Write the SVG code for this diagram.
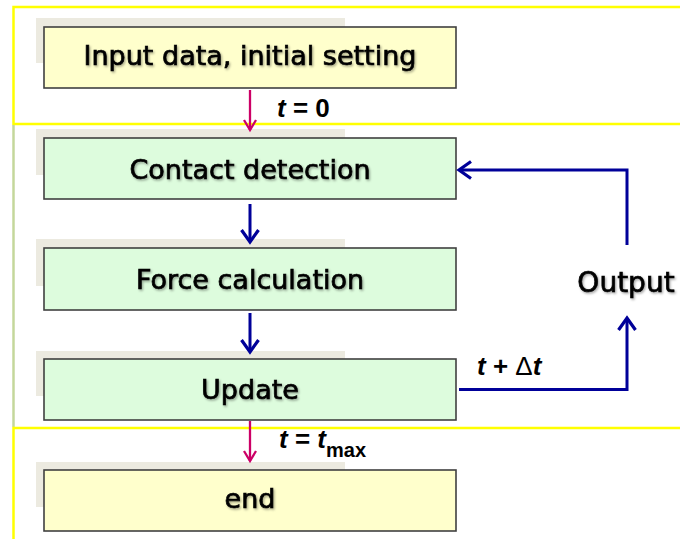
<svg xmlns="http://www.w3.org/2000/svg" width="680" height="539" viewBox="0 0 680 539">
<defs>
<style>
.shadow{fill:#ECEAE0;}
.boxY{fill:#FFFFCC;stroke:#404040;stroke-width:1.6;}
.boxG{fill:#DDFCDD;stroke:#404040;stroke-width:1.6;}
.t{font-family:"DejaVu Sans",sans-serif;font-size:27px;fill:#000;stroke:#000;stroke-width:0.7;text-anchor:middle;filter:url(#ts);}
.lab{font-family:"Liberation Sans",Arial,sans-serif;font-size:26px;font-weight:bold;fill:#000;}
.blue{fill:none;stroke:#000099;stroke-width:3;}
.pink{fill:none;stroke:#CC0066;stroke-width:2.3;}
.frame{fill:none;stroke:#FFFF00;stroke-width:2.5;}
</style>
<filter id="ts" x="-5%" y="-20%" width="110%" height="150%">
<feDropShadow dx="1.2" dy="1.5" stdDeviation="0.8" flood-color="#000" flood-opacity="0.35"/>
</filter>
<marker id="ab" markerUnits="userSpaceOnUse" viewBox="-16 -12 20 24" markerWidth="20" markerHeight="24" refX="0" refY="0" orient="auto">
<path d="M-12,-8.5 L0,0 L-12,8.5" fill="none" stroke="#000099" stroke-width="3.2"/>
</marker>
<marker id="ap" markerUnits="userSpaceOnUse" viewBox="-14 -10 18 20" markerWidth="18" markerHeight="20" refX="0" refY="0" orient="auto">
<path d="M-10,-6 L0,0 L-10,6" fill="none" stroke="#CC0066" stroke-width="2.3"/>
</marker>
</defs>
<rect width="680" height="539" fill="#FFFFFF"/>
<g id="frames">
<path class="frame" d="M682,7 L13.5,7 L13.5,124 L682,124"/>
<line x1="13.5" y1="125" x2="13.5" y2="427" stroke="#C4D79B" stroke-width="2.5"/>
<path class="frame" d="M682,428 L13.5,428 L13.5,541"/>
</g>
<g id="node-input">
<rect class="shadow" x="36" y="18" width="309" height="45"/>
<rect class="boxY" x="44" y="27" width="412" height="61"/>
<text class="t" x="250" y="65">Input data, initial setting</text>
</g>
<g id="node-contact">
<rect class="shadow" x="36" y="129" width="309" height="46"/>
<rect class="boxG" x="44" y="138" width="412" height="61"/>
<text class="t" x="250" y="179">Contact detection</text>
</g>
<g id="node-force">
<rect class="shadow" x="36" y="239" width="309" height="47"/>
<rect class="boxG" x="44" y="248" width="412" height="62"/>
<text class="t" x="250" y="289">Force calculation</text>
</g>
<g id="node-update">
<rect class="shadow" x="36" y="351" width="309" height="45"/>
<rect class="boxG" x="44" y="359" width="412" height="61"/>
<text class="t" x="250" y="399">Update</text>
</g>
<g id="node-end">
<rect class="shadow" x="36" y="462" width="309" height="45"/>
<rect class="boxY" x="44" y="470" width="412" height="61"/>
<text class="t" x="250" y="508">end</text>
</g>
<g id="node-output">
<text class="t" x="626" y="292" style="font-size:28px">Output</text>
</g>
<g id="connectors">
<line class="pink" x1="250" y1="90" x2="250" y2="130" marker-end="url(#ap)"/>
<line class="blue" x1="250" y1="204" x2="250" y2="242" marker-end="url(#ab)"/>
<line class="blue" x1="250" y1="313" x2="250" y2="352" marker-end="url(#ab)"/>
<line class="pink" x1="250" y1="421" x2="250" y2="461" marker-end="url(#ap)"/>
<polyline class="blue" points="459,389.5 627,389.5 627,318" marker-end="url(#ab)"/>
<polyline class="blue" points="627,245 627,170 459,170" marker-end="url(#ab)"/>
<text class="lab" x="277" y="117"><tspan font-style="italic">t</tspan> = 0</text>
<text class="lab" x="279" y="448"><tspan font-style="italic">t</tspan> = <tspan font-style="italic">t</tspan><tspan font-size="20" dy="9">max</tspan></text>
<text class="lab" x="477" y="375"><tspan font-style="italic">t</tspan> + <tspan font-weight="normal">Δ</tspan><tspan font-style="italic">t</tspan></text>
</g>
</svg>
